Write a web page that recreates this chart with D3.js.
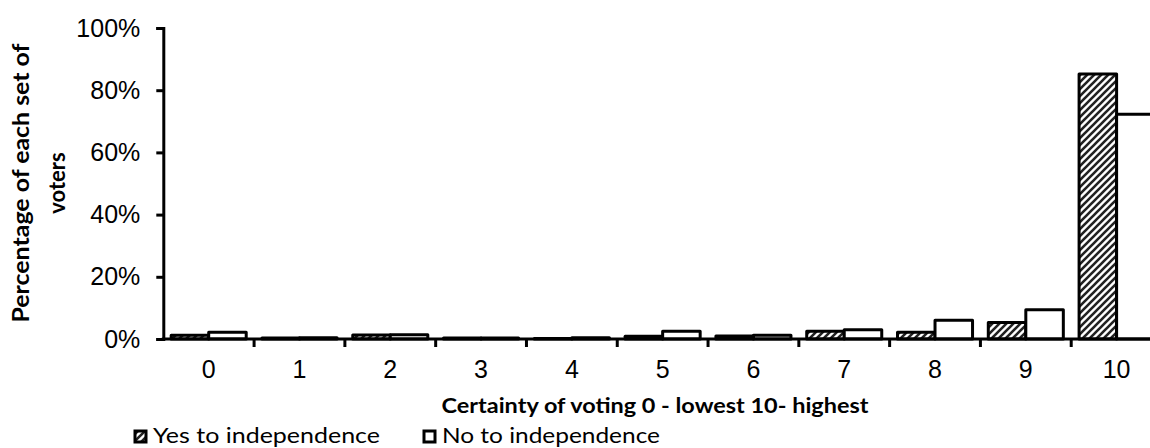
<!DOCTYPE html>
<html>
<head>
<meta charset="utf-8">
<script src="https://cdn.jsdelivr.net/npm/d3@7"></script>
<style>
  html, body { margin: 0; padding: 0; background: #fff; overflow: hidden; }
  svg { display: block; }
</style>
</head>
<body>
<script>
// Certainty of voting, by referendum intention
const categories = ["0", "1", "2", "3", "4", "5", "6", "7", "8", "9", "10"];
const seriesNames = ["Yes to independence", "No to independence"];
const yesValues = [0.012, 0.003, 0.013, 0.003, 0.002, 0.009, 0.010, 0.025, 0.022, 0.053, 0.852];
const noValues  = [0.022, 0.004, 0.014, 0.003, 0.004, 0.025, 0.012, 0.030, 0.060, 0.094, 0.723];
const yTicks = [0, 0.2, 0.4, 0.6, 0.8, 1.0];

const W = 1150, H = 448;
const svg = d3.select("body").append("svg").attr("width", W).attr("height", H);

// diagonal hatch used for the "Yes" bars
const defs = svg.append("defs");
const pat = defs.append("pattern")
  .attr("id", "hatch")
  .attr("patternUnits", "userSpaceOnUse")
  .attr("width", 7).attr("height", 7);
pat.append("rect").attr("width", 7).attr("height", 7).attr("fill", "#fff");
pat.append("path")
  .attr("d", "M-1,8 L8,-1 M-2,2 L2,-2 M5,9 L9,5")
  .attr("stroke", "#222").attr("stroke-width", 2.6);

const x0 = d3.scaleBand().domain(categories).range([163.3, 1162]).padding(0);
const x1 = d3.scaleBand().domain(seriesNames).range([0, x0.bandwidth()])
  .paddingInner(0).paddingOuter(0.21);
const y = d3.scaleLinear().domain([0, 1]).range([339, 28]);

const rows = categories.map((c, i) => ({ cat: c, vals: [yesValues[i], noValues[i]] }));

// bars
const g = svg.append("g");
rows.forEach(r => {
  r.vals.forEach((v, j) => {
    g.append("rect")
      .attr("x", x0(r.cat) + x1(seriesNames[j]))
      .attr("y", y(v))
      .attr("width", x1.bandwidth())
      .attr("height", y(0) - y(v))
      .attr("fill", j === 0 ? "url(#hatch)" : "#fff")
      .attr("stroke", "#000")
      .attr("stroke-width", 3)
      .attr("stroke-linejoin", "round");
  });
});

// y axis
const yAxis = svg.append("g")
  .attr("transform", "translate(163.3,0)")
  .call(d3.axisLeft(y).tickValues(yTicks).tickFormat(d3.format(".0%")).tickSize(7).tickPadding(16));
yAxis.select(".domain").attr("stroke", "#000").attr("stroke-width", 3);
yAxis.selectAll(".tick line").attr("stroke", "#000").attr("stroke-width", 3);
yAxis.selectAll(".tick text")
  .attr("font-family", "'Liberation Sans', Arial, sans-serif")
  .attr("font-size", 25).attr("fill", "#000");

// x axis: ticks sit on the category boundaries
const xAxisG = svg.append("g").attr("transform", "translate(0,339)");
xAxisG.append("line")
  .attr("x1", 161.8).attr("x2", 1162).attr("y1", 0).attr("y2", 0)
  .attr("stroke", "#000").attr("stroke-width", 3);
const boundaries = categories.map(c => x0(c)).concat([x0.range()[1]]);
xAxisG.selectAll("line.tk").data(boundaries.slice(1)).enter().append("line")
  .attr("class", "tk")
  .attr("x1", d => d).attr("x2", d => d).attr("y1", 0).attr("y2", 8)
  .attr("stroke", "#000").attr("stroke-width", 3);
xAxisG.selectAll("text").data(categories).enter().append("text")
  .attr("x", d => x0(d) + x0.bandwidth() / 2)
  .attr("y", 39)
  .attr("text-anchor", "middle")
  .attr("font-family", "'Liberation Sans', Arial, sans-serif")
  .attr("font-size", 25)
  .text(d => d);

// axis titles
svg.append("text")
  .attr("x", 655).attr("y", 413)
  .attr("text-anchor", "middle")
  .attr("font-family", "Lato, sans-serif")
  .attr("font-weight", "bold")
  .attr("font-size", 21.5)
  .attr("textLength", 427).attr("lengthAdjust", "spacingAndGlyphs")
  .text("Certainty of voting 0 - lowest 10- highest");

const yt = svg.append("g")
  .attr("transform", "translate(0,183) rotate(-90)")
  .attr("font-family", "Lato, sans-serif")
  .attr("font-weight", "bold")
  .attr("font-size", 22);
yt.append("text").attr("x", -139.5).attr("y", 29)
  .attr("textLength", 279).attr("lengthAdjust", "spacingAndGlyphs")
  .text("Percentage of each set of");
yt.append("text").attr("x", 0).attr("y", 65)
  .attr("text-anchor", "middle")
  .text("voters");

// legend
const legend = svg.append("g").attr("transform", "translate(0,443)");
const legendItems = [
  { name: seriesNames[0], fill: "url(#hatch)", x: 135, len: 227 },
  { name: seriesNames[1], fill: "#fff", x: 424, len: 218 }
];
legendItems.forEach(it => {
  legend.append("rect")
    .attr("x", it.x).attr("y", -12)
    .attr("width", 11).attr("height", 11)
    .attr("fill", it.fill).attr("stroke", "#000").attr("stroke-width", 3);
  legend.append("text")
    .attr("x", it.x + 18).attr("y", 0)
    .attr("font-family", "Lato, sans-serif")
    .attr("font-size", 21)
    .attr("textLength", it.len).attr("lengthAdjust", "spacingAndGlyphs")
    .text(it.name);
});
</script>
</body>
</html>
